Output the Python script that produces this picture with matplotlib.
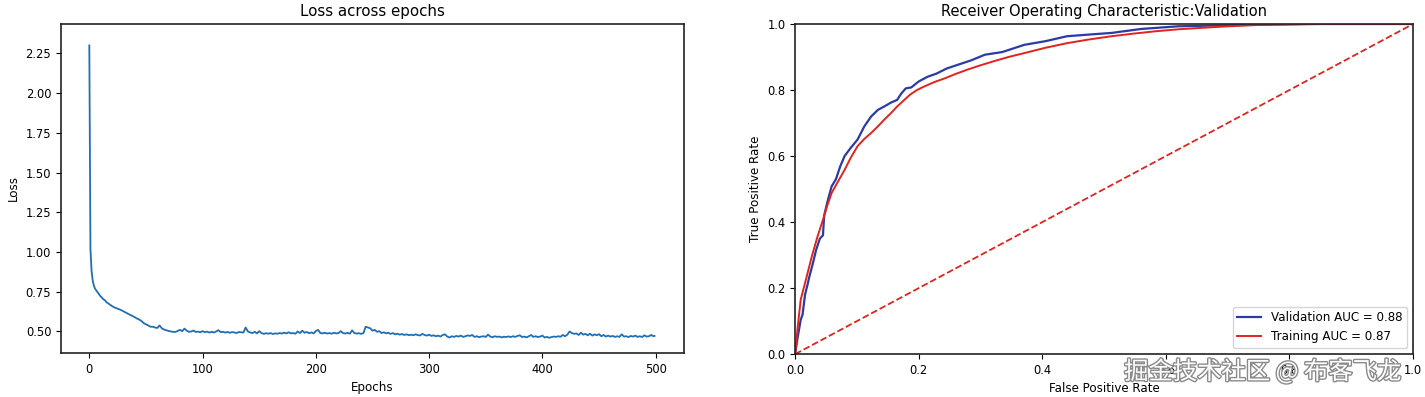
import matplotlib
matplotlib.use("Agg")
import matplotlib.pyplot as plt
import matplotlib.patheffects as pe

# ---------------- data ----------------
loss_head = [2.30, 1.02, 0.88, 0.82, 0.79, 0.77, 0.76, 0.75, 0.74, 0.73,
             0.72, 0.715, 0.705, 0.70, 0.695, 0.685, 0.68, 0.675, 0.67, 0.665]
# every 2 epochs from epoch 20 onwards
loss_tail = [
    0.660, 0.652, 0.646, 0.641, 0.635, 0.627, 0.620, 0.612, 0.605, 0.598,
    0.590, 0.582, 0.575, 0.566, 0.553, 0.545, 0.538, 0.530, 0.530, 0.525,
    0.522, 0.538, 0.520, 0.512, 0.508, 0.503, 0.500, 0.498, 0.497, 0.503,
    0.510, 0.502, 0.518, 0.505, 0.498, 0.500, 0.506, 0.497, 0.499, 0.495,
    0.502, 0.496, 0.499, 0.493, 0.498, 0.494, 0.500, 0.508, 0.496, 0.498,
    0.493, 0.497, 0.492, 0.496, 0.494, 0.490, 0.497, 0.495, 0.493, 0.525,
    0.500, 0.494, 0.490, 0.498, 0.488, 0.502, 0.490, 0.485, 0.489, 0.486,
    0.490, 0.484, 0.488, 0.486, 0.490, 0.487, 0.493, 0.488, 0.495, 0.488,
    0.490, 0.486, 0.500, 0.490, 0.505, 0.492, 0.497, 0.489, 0.494, 0.488,
    0.503, 0.510, 0.490, 0.488, 0.492, 0.487, 0.490, 0.486, 0.492, 0.488,
    0.490, 0.502, 0.490, 0.487, 0.492, 0.486, 0.507, 0.490, 0.487, 0.489,
    0.485, 0.490, 0.530, 0.525, 0.520, 0.505, 0.510, 0.498, 0.502, 0.490,
    0.495, 0.488, 0.492, 0.485, 0.490, 0.482, 0.486, 0.480, 0.484, 0.478,
    0.482, 0.477, 0.480, 0.476, 0.482, 0.477, 0.475, 0.485, 0.478, 0.474,
    0.480, 0.472, 0.476, 0.470, 0.474, 0.468, 0.478, 0.482, 0.468, 0.462,
    0.470, 0.466, 0.472, 0.468, 0.474, 0.466, 0.470, 0.475, 0.472, 0.478,
    0.466, 0.470, 0.464, 0.468, 0.470, 0.466, 0.480, 0.468, 0.464, 0.470,
    0.466, 0.468, 0.463, 0.467, 0.465, 0.469, 0.465, 0.470, 0.466, 0.472,
    0.476, 0.465, 0.468, 0.463, 0.470, 0.478, 0.466, 0.470, 0.465, 0.468,
    0.474, 0.462, 0.466, 0.460, 0.465, 0.468, 0.466, 0.470, 0.467, 0.478,
    0.470, 0.480, 0.500, 0.490, 0.485, 0.488, 0.478, 0.492, 0.480, 0.485,
    0.476, 0.486, 0.474, 0.482, 0.476, 0.483, 0.470, 0.478, 0.468, 0.474,
    0.468, 0.472, 0.466, 0.470, 0.466, 0.482, 0.468, 0.470, 0.465, 0.472,
    0.468, 0.474, 0.466, 0.470, 0.465, 0.476, 0.468, 0.470, 0.478, 0.470,
]
loss_last = 0.472

val_fpr = [0.0, 0.004, 0.009, 0.012, 0.016, 0.020, 0.023, 0.028, 0.034, 0.040,
           0.045, 0.047, 0.052, 0.059, 0.066, 0.073, 0.080, 0.090, 0.101, 0.112,
           0.123, 0.134, 0.144, 0.155, 0.165, 0.172, 0.179, 0.188, 0.200, 0.214,
           0.229, 0.245, 0.264, 0.285, 0.307, 0.335, 0.371, 0.405, 0.440, 0.475,
           0.512, 0.560, 0.619, 0.690, 0.760, 0.830, 0.900, 1.0]
val_tpr = [0.0, 0.05, 0.104, 0.12, 0.18, 0.21, 0.235, 0.27, 0.316, 0.35,
           0.36, 0.42, 0.46, 0.508, 0.53, 0.569, 0.60, 0.625, 0.65, 0.69,
           0.72, 0.74, 0.75, 0.762, 0.77, 0.79, 0.805, 0.808, 0.826, 0.84,
           0.85, 0.865, 0.877, 0.89, 0.907, 0.915, 0.937, 0.948, 0.963, 0.968,
           0.973, 0.985, 0.993, 0.996, 0.998, 1.0, 1.0, 1.0]

train_fpr = [0.0, 0.004, 0.009, 0.018, 0.027, 0.036, 0.045, 0.052, 0.059, 0.070,
             0.080, 0.090, 0.101, 0.112, 0.123, 0.134, 0.144, 0.155, 0.165, 0.176,
             0.186, 0.197, 0.208, 0.225, 0.243, 0.260, 0.279, 0.300, 0.321, 0.345,
             0.371, 0.405, 0.440, 0.475, 0.512, 0.548, 0.583, 0.620, 0.654, 0.700,
             0.760, 0.850, 1.0]
train_tpr = [0.0, 0.08, 0.165, 0.23, 0.296, 0.355, 0.407, 0.45, 0.488, 0.525,
             0.558, 0.595, 0.63, 0.652, 0.67, 0.69, 0.71, 0.73, 0.75, 0.769,
             0.786, 0.80, 0.81, 0.824, 0.836, 0.849, 0.862, 0.875, 0.887, 0.90,
             0.912, 0.928, 0.942, 0.953, 0.963, 0.971, 0.978, 0.984, 0.988, 0.993,
             0.998, 1.0, 1.0]

val_auc = 0.88
train_auc = 0.87

# ---------------- figure ----------------
epochs = list(range(len(loss_head))) + [20 + 2 * i for i in range(len(loss_tail))] + [499]
loss = loss_head + loss_tail + [loss_last]

fig = plt.figure(figsize=(14.25, 3.97), dpi=100)
ax1 = fig.add_axes([0.0428, 0.111, 0.4372, 0.8285])
ax2 = fig.add_axes([0.558, 0.108, 0.4336, 0.8315])

TICK = 8.3
LAB = 8.6
TIT = 10.8

ax1.plot(epochs, loss, color='#1f6fb4', lw=1.3)
ax1.set_title('Loss across epochs', fontsize=TIT)
ax1.set_xlabel('Epochs', fontsize=LAB)
ax1.set_ylabel('Loss', fontsize=LAB)
ax1.set_yticks([0.50, 0.75, 1.00, 1.25, 1.50, 1.75, 2.00, 2.25])
ax1.set_xticks([0, 100, 200, 300, 400, 500])
ax1.set_ylim(0.365, 2.435)
ax1.set_xlim(-25, 525)
ax1.tick_params(labelsize=TICK)

ax2.plot(val_fpr, val_tpr, color='#2b3aa6', lw=1.6,
         label='Validation AUC = %0.2f' % val_auc)
ax2.plot(train_fpr, train_tpr, color='#e2231d', lw=1.4,
         label='Training AUC = %0.2f' % train_auc)
ax2.plot([0, 1], [0, 1], linestyle='--', color='#e2231d', lw=1.3)
ax2.set_xlim(0, 1)
ax2.set_ylim(0, 1)
ax2.set_title('Receiver Operating Characteristic:Validation', fontsize=10.5)
ax2.set_xlabel('False Positive Rate', fontsize=LAB)
ax2.set_ylabel('True Positive Rate', fontsize=LAB)
ax2.tick_params(labelsize=TICK)
ax2.legend(loc='lower right', fontsize=LAB)

for ax in (ax1, ax2):
    for s in ax.spines.values():
        s.set_linewidth(1.2)
        s.set_color('#222222')

fig.text(0.983, 0.03, '掘金技术社区 @ 布客飞龙', ha='right', va='bottom',
         fontsize=17.5, color='white', family=['Noto Sans CJK SC', 'DejaVu Sans'],
         path_effects=[pe.withStroke(linewidth=2.0, foreground='#8a8a8a')])

fig.savefig('out.png', dpi=100)
